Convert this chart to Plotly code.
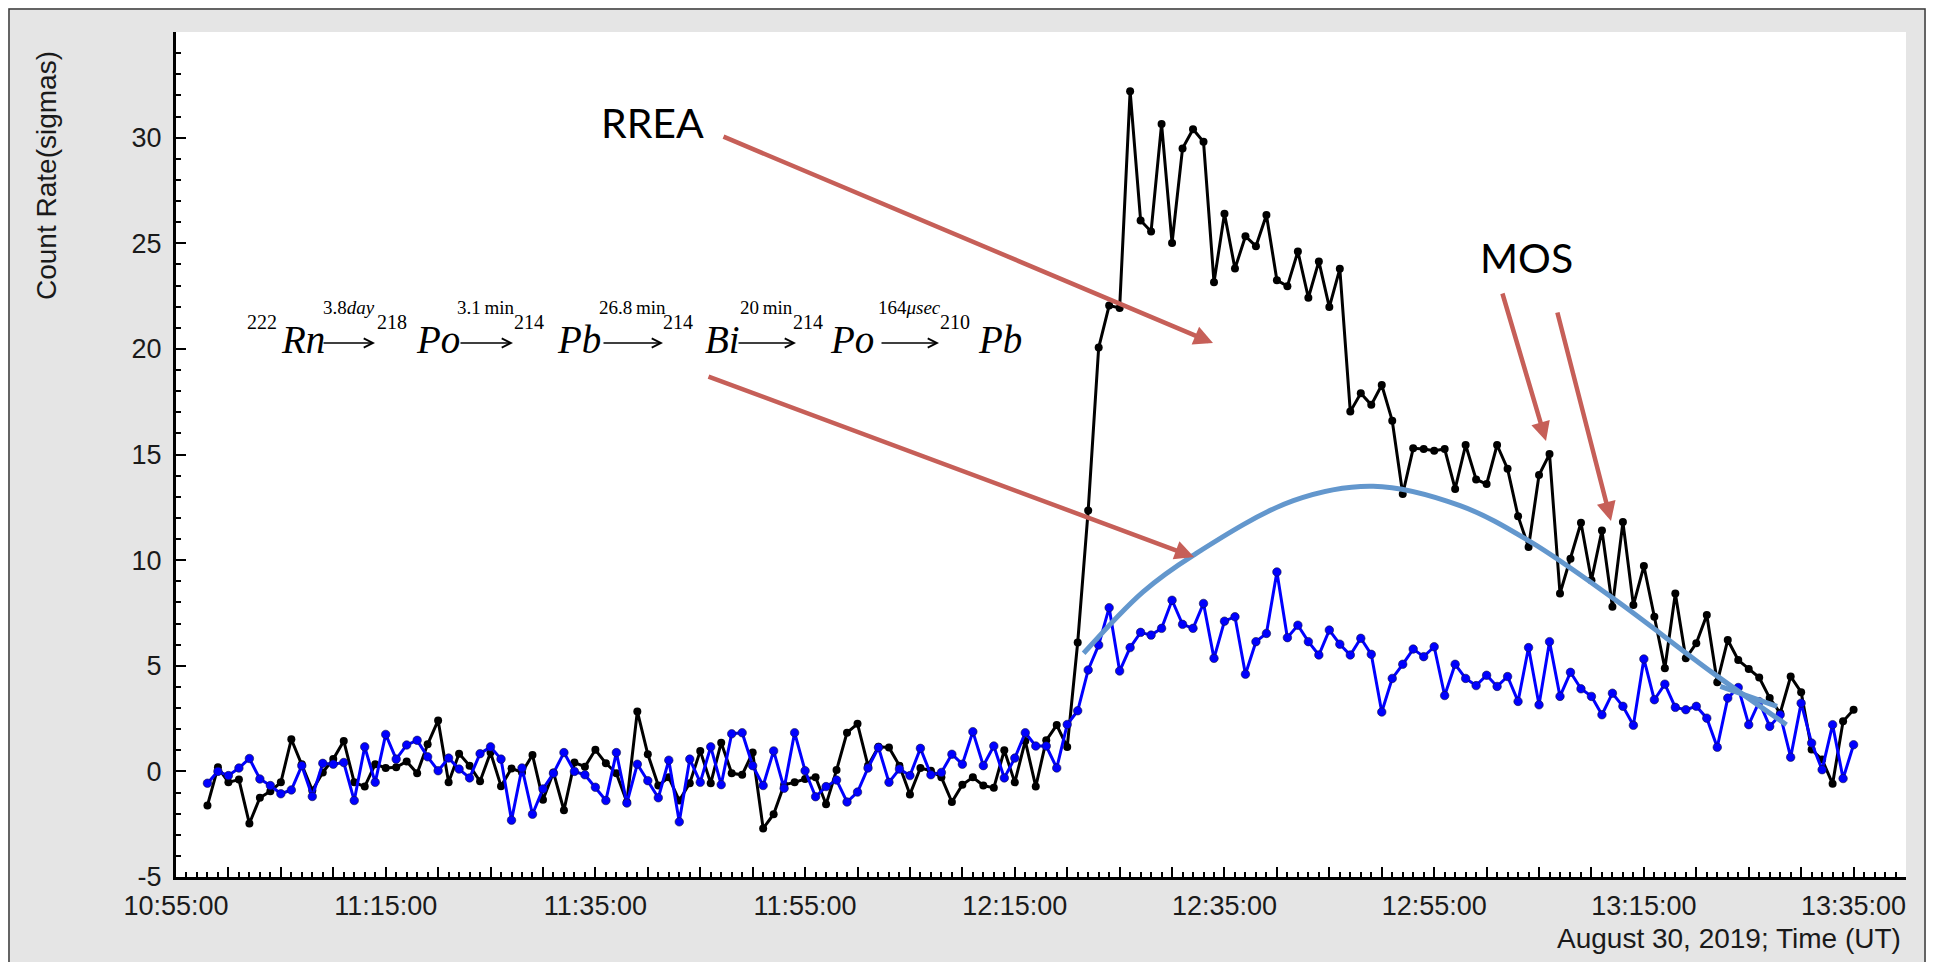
import plotly.graph_objects as go
import pandas as pd

# ---------------- data ----------------
start_time = "2019-08-30 10:58:00"

black_sigma = [
    -1.61, 0.19, -0.52, -0.39, -2.47, -1.25, -0.94, -0.52, 1.52, 0.34,
    -0.90, -0.05, 0.58, 1.44, -0.52, -0.72, 0.34, 0.16, 0.19, 0.47,
    -0.09, 1.28, 2.41, -0.52, 0.84, 0.27, -0.47, 0.89, -0.70, 0.14,
    -0.05, 0.78, -1.34, -0.05, -1.84, 0.42, 0.22, 1.02, 0.38, -0.09,
    -1.45, 2.84, 0.81, -0.67, -0.28, -1.38, -0.56, 0.97, -0.56, 1.36,
    -0.09, -0.16, 0.89, -2.70, -2.03, -0.63, -0.52, -0.36, -0.28, -1.56,
    0.06, 1.83, 2.25, 0.27, 1.16, 1.13, 0.27, -1.09, 0.16, 0.03,
    -0.28, -1.45, -0.63, -0.28, -0.67, -0.78, 1.00, -0.52, 1.44, -0.72,
    1.47, 2.19, 1.15, 6.10, 12.35, 20.06, 22.05, 21.94, 32.20, 26.08,
    25.56, 30.64, 25.01, 29.49, 30.40, 29.80, 23.15, 26.40, 23.80, 25.33,
    24.86, 26.34, 23.25, 22.97, 24.61, 22.42, 24.14, 21.98, 23.79, 17.03,
    17.90, 17.35, 18.29, 16.60, 13.13, 15.29, 15.26, 15.18, 15.26, 13.37,
    15.45, 13.82, 13.60, 15.45, 14.32, 12.08, 10.62, 14.03, 15.02, 8.42,
    10.07, 11.77, 9.05, 11.40, 7.79, 11.80, 7.87, 9.72, 7.32, 4.88,
    8.42, 5.35, 6.06, 7.40, 4.22, 6.22, 5.27, 4.85, 4.44, 3.47,
    2.76, 4.49, 3.75, 1.03, 0.56, -0.59, 2.37, 2.92,
]

blue_sigma = [
    -0.56, 0.00, -0.20, 0.16, 0.61, -0.36, -0.67, -1.06, -0.88, 0.27,
    -1.19, 0.38, 0.34, 0.42, -1.38, 1.16, -0.52, 1.75, 0.58, 1.25,
    1.47, 0.69, 0.03, 0.63, 0.11, -0.31, 0.84, 1.16, 0.58, -2.31,
    0.16, -2.03, -0.83, -0.09, 0.89, 0.00, -0.16, -0.75, -1.38, 0.89,
    -1.50, 0.34, -0.44, -1.25, 0.53, -2.39, 0.58, -0.52, 1.16, -0.63,
    1.78, 1.83, 0.27, -0.67, 0.97, -0.80, 1.83, 0.03, -1.20, -0.72,
    -0.41, -1.45, -0.98, 0.16, 1.13, -0.52, 0.11, -0.20, 1.09, -0.16,
    -0.05, 0.81, 0.34, 1.88, 0.27, 1.20, -0.31, 0.63, 1.83, 1.20,
    1.20, 0.16, 2.22, 2.87, 4.80, 5.98, 7.75, 4.75, 5.86, 6.58,
    6.45, 6.77, 8.10, 6.96, 6.77, 7.95, 5.35, 7.11, 7.32, 4.60,
    6.14, 6.53, 9.44, 6.33, 6.92, 6.14, 5.51, 6.69, 6.02, 5.51,
    6.30, 5.54, 2.81, 4.40, 5.07, 5.79, 5.43, 5.90, 3.59, 5.07,
    4.40, 4.06, 4.55, 4.02, 4.49, 3.31, 5.86, 3.15, 6.14, 3.55,
    4.69, 3.91, 3.55, 2.68, 3.70, 3.08, 2.18, 5.32, 3.39, 4.13,
    3.03, 2.92, 3.08, 2.52, 1.14, 3.47, 3.97, 2.21, 3.30, 2.13,
    2.68, 0.67, 3.23, 1.34, 0.08, 2.21, -0.34, 1.26,
]

# hand-drawn trend curve (light blue)
trend_time = [
    "2019-08-30 12:21:34", "2019-08-30 12:27:14", "2019-08-30 12:32:01",
    "2019-08-30 12:41:34", "2019-08-30 12:49:11", "2019-08-30 12:57:28",
    "2019-08-30 13:04:12", "2019-08-30 13:12:06", "2019-08-30 13:21:36",
    "2019-08-30 13:28:36",
]
trend_value = [5.59, 8.50, 10.23, 12.82, 13.50, 12.58, 10.86, 8.18, 4.65, 2.21]
fork_time = ["2019-08-30 13:22:18", "2019-08-30 13:27:42"]
fork_value = [4.02, 3.08]

# axis ticks
x_tick_times = pd.date_range("2019-08-30 10:55:00", "2019-08-30 13:40:00", freq="5min")
x_label_times = ["10:55:00", "11:15:00", "11:35:00", "11:55:00", "12:15:00",
                 "12:35:00", "12:55:00", "13:15:00", "13:35:00"]
y_tick_values = [-5, 0, 5, 10, 15, 20, 25, 30, 35]
y_tick_labels = ["-5", "0", "5", "10", "15", "20", "25", "30", ""]

# decay chain text
nuclide_mass = ["222", "218", "214", "214", "214", "210"]
nuclide_symbol = ["Rn", "Po", "Pb", "Bi", "Po", "Pb"]
half_life = ["3.8<i>day</i>", "3.1\u2009min", "26.8\u2009min", "20\u2009min", "164<i>\u03bcsec</i>"]

# ---------------- geometry (layout only) ----------------
# The page body has an 8px margin, so the figure is 16px smaller than the window
# and all positions below are given in window (screenshot) pixels.
OFF = 8
W, H = 1934 - 2 * OFF, 970 - 2 * OFF
L, R, T, B = 176, 1906, 32, 877      # plot area in window pixels
PW, PH = R - L, B - T


def px(xp):
    return (xp - L) / PW


def py(yp):
    return (B - yp) / PH


times = pd.date_range(start_time, periods=len(black_sigma), freq="1min")

fig = go.Figure()

fig.add_trace(go.Scatter(
    x=times, y=black_sigma, mode="lines+markers",
    line=dict(color="black", width=3),
    marker=dict(color="black", size=8),
    showlegend=False,
))
fig.add_trace(go.Scatter(
    x=times, y=blue_sigma, mode="lines+markers",
    line=dict(color="#0000ff", width=3),
    marker=dict(color="#0000ff", size=8.5, line=dict(color="#101040", width=0.6)),
    showlegend=False,
))
fig.add_trace(go.Scatter(
    x=pd.to_datetime(trend_time), y=trend_value, mode="lines",
    line=dict(color="#6397cd", width=5, shape="spline", smoothing=1.0),
    showlegend=False,
))
fig.add_trace(go.Scatter(
    x=pd.to_datetime(fork_time), y=fork_value, mode="lines",
    line=dict(color="#6397cd", width=5),
    showlegend=False,
))

tick_font = dict(family="Liberation Sans, Arial, sans-serif", size=27, color="#1a1a1a")
title_font = dict(family="Liberation Sans, Arial, sans-serif", size=28, color="#1a1a1a")

x_ticktext = [t.strftime("%H:%M:%S") if t.strftime("%H:%M:%S") in x_label_times else ""
              for t in x_tick_times]

fig.update_xaxes(
    type="date",
    range=["2019-08-30 10:55:00", "2019-08-30 13:40:00"],
    tickmode="array", tickvals=list(x_tick_times), ticktext=x_ticktext,
    ticks="inside", ticklen=10, tickwidth=2, tickcolor="black",
    minor=dict(ticks="inside", dtick=60000, tick0="2019-08-30 10:55:00",
               ticklen=5, tickwidth=1.5, tickcolor="black", showgrid=False),
    showline=True, linewidth=3, linecolor="black",
    showgrid=False, zeroline=False, automargin=False,
    tickfont=tick_font, ticklabelstandoff=3,
)
fig.update_yaxes(
    range=[-5, 35],
    tickmode="array", tickvals=y_tick_values, ticktext=y_tick_labels,
    ticks="inside", ticklen=10, tickwidth=2, tickcolor="black",
    minor=dict(ticks="inside", dtick=1, tick0=0, ticklen=5, tickwidth=1.5,
               tickcolor="black", showgrid=False),
    showline=True, linewidth=3, linecolor="black",
    showgrid=False, zeroline=False, automargin=False,
    tickfont=tick_font, ticklabelstandoff=6,
)

annotations = []
# axis titles
annotations.append(dict(
    text="August 30, 2019; Time (UT)", xref="paper", yref="paper",
    x=px(1903), y=py(938), xanchor="right", yanchor="middle", showarrow=False,
    font=title_font,
))
annotations.append(dict(
    text="Count Rate(sigmas)", xref="paper", yref="paper",
    x=px(46), y=py(176), xanchor="center", yanchor="middle", showarrow=False,
    textangle=-90, font=title_font,
))
# labels
label_font = dict(family="Lato, Open Sans, sans-serif", size=41, color="black")
annotations.append(dict(text="RREA", xref="paper", yref="paper", x=px(652), y=py(123),
                        xanchor="center", yanchor="middle", showarrow=False, font=label_font))
annotations.append(dict(text="MOS", xref="paper", yref="paper", x=px(1526), y=py(257),
                        xanchor="center", yanchor="middle", showarrow=False, font=label_font))

# red arrows (tail px, head px)
red = "#c65f58"
red_arrows = [((722, 136), (1213, 343)), ((707, 376), (1194, 557)),
              ((1502, 292), (1546, 441)), ((1557, 311), (1611, 521))]
for (tx, ty), (hx, hy) in red_arrows:
    annotations.append(dict(
        text="", xref="paper", yref="paper", x=px(hx), y=py(hy),
        ax=tx - hx, ay=ty - hy, axref="pixel", ayref="pixel",
        showarrow=True, arrowhead=2, arrowsize=0.85, arrowwidth=4.5,
        arrowcolor=red, standoff=0,
    ))

# decay chain formula
serif = "Liberation Serif, Times New Roman, serif"
mass_left = [245, 375, 512, 661, 791, 938]
sym_left = [279, 414, 555, 703, 828, 976]
arrow_span = [(322, 375), (459, 513), (602, 663), (737, 796), (880, 939)]
for i in range(len(nuclide_symbol)):
    annotations.append(dict(
        text=nuclide_mass[i], xref="paper", yref="paper", x=px(mass_left[i]), y=py(322),
        xanchor="left", yanchor="middle", showarrow=False,
        font=dict(family=serif, size=20, color="black"),
    ))
    annotations.append(dict(
        text="<i>" + nuclide_symbol[i] + "</i>", xref="paper", yref="paper",
        x=px(sym_left[i]), y=py(339), xanchor="left", yanchor="middle", showarrow=False,
        font=dict(family=serif, size=39, color="black"),
    ))
for i, (a0, a1) in enumerate(arrow_span):
    annotations.append(dict(
        text=half_life[i], xref="paper", yref="paper", x=px((a0 + a1) / 2), y=py(307),
        xanchor="center", yanchor="middle", showarrow=False,
        font=dict(family=serif, size=19, color="black"),
    ))
    annotations.append(dict(
        text="", xref="paper", yref="paper", x=px(a1), y=py(343),
        ax=a0 - a1, ay=0, axref="pixel", ayref="pixel",
        showarrow=True, arrowhead=5, arrowsize=1.3, arrowwidth=1.4,
        arrowcolor="black", standoff=0,
    ))

# outer frame (left, top and right edges of the grey panel)
fx0, fx1 = px(OFF + 1), px(OFF + W - 1)
fy0, fy1 = py(OFF + H + 5), py(OFF + 1)
shapes = [
    dict(type="path", xref="paper", yref="paper",
         path=f"M {fx0},{fy0} L {fx0},{fy1} L {fx1},{fy1} L {fx1},{fy0}",
         line=dict(color="#3a3a3a", width=1.5), layer="below"),
]

fig.update_layout(
    width=W, height=H,
    margin=dict(l=L - OFF, r=OFF + W - R, t=T - OFF, b=OFF + H - B, autoexpand=False),
    paper_bgcolor="#e5e5e5", plot_bgcolor="white",
    annotations=annotations, shapes=shapes,
    showlegend=False,
)

fig.write_html("out.html")
